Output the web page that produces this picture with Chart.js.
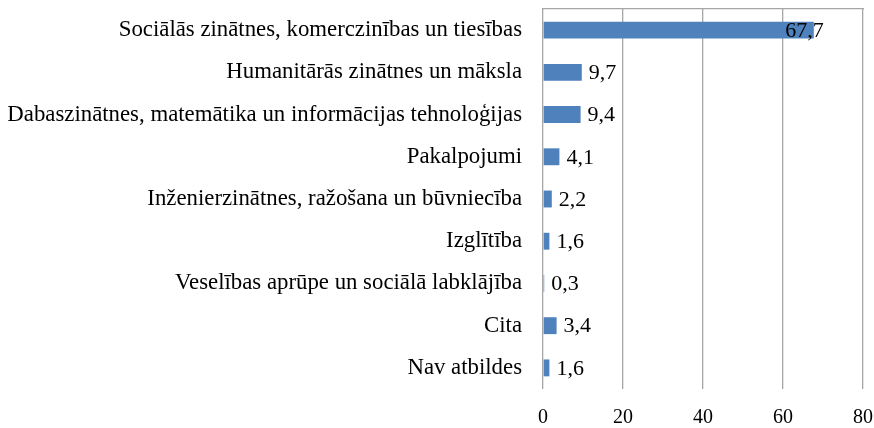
<!DOCTYPE html>
<html>
<head>
<meta charset="utf-8">
<script src="https://cdn.jsdelivr.net/npm/chart.js@4"></script>
<style>
  body { margin: 0; background: #fff; }
  #wrap { width: 874px; height: 428px; }
</style>
</head>
<body>
<div id="wrap"><canvas id="myChart"></canvas></div>
<script>
// Data
const categories = [
  "Sociālās zinātnes, komerczinības un tiesības",
  "Humanitārās zinātnes un māksla",
  "Dabaszinātnes, matemātika un informācijas tehnoloģijas",
  "Pakalpojumi",
  "Inženierzinātnes, ražošana un būvniecība",
  "Izglītība",
  "Veselības aprūpe un sociālā labklājība",
  "Cita",
  "Nav atbildes"
];
const values = [67.7, 9.7, 9.4, 4.1, 2.2, 1.6, 0.3, 3.4, 1.6];
const axisMin = 0;
const axisMax = 80;
const axisStep = 20;

const fontFamily = "'Liberation Serif', 'Times New Roman', serif";
const gridColor = "#a6a6a6";
const noColor = "rgba(0,0,0,0)";

// value labels next to bars
const valueLabels = {
  id: "valueLabels",
  afterDatasetsDraw(chart) {
    const ctx = chart.ctx;
    const meta = chart.getDatasetMeta(0);
    ctx.save();
    ctx.font = "22px " + fontFamily;
    ctx.fillStyle = "#000";
    ctx.textBaseline = "middle";
    meta.data.forEach((bar, i) => {
      const txt = values[i].toFixed(1).replace(".", ",");
      if (values[i] > axisMax / 2) {
        ctx.textAlign = "right";
        ctx.fillText(txt, bar.x + 10, bar.y + 1);
      } else {
        ctx.textAlign = "left";
        ctx.fillText(txt, bar.x + 7, bar.y + 1);
      }
    });
    ctx.restore();
  }
};

const ctx = document.getElementById("myChart");

new Chart(ctx, {
  type: "bar",
  data: {
    labels: categories,
    datasets: [
      {
        data: values,
        backgroundColor: "#4f81bd",
        borderWidth: 0,
        barPercentage: 0.4,
        categoryPercentage: 1,
      },
    ],
  },
  options: {
    indexAxis: "y",
    responsive: true,
    maintainAspectRatio: false,
    animation: false,
    layout: {
      padding: { top: 9, right: 11, left: 8, bottom: 0 },
    },
    plugins: {
      legend: { display: false },
      tooltip: { enabled: false },
    },
    scales: {
      x: {
        position: "bottom",
        min: axisMin,
        max: axisMax,
        ticks: {
          stepSize: axisStep,
          color: "#000",
          padding: 0,
          font: { family: fontFamily, size: 20, lineHeight: 1 },
        },
        grid: { color: gridColor, lineWidth: 1.3, drawTicks: true, tickLength: 19, tickColor: noColor },
        border: { display: false },
      },
      x2: {
        position: "top",
        min: axisMin,
        max: axisMax,
        ticks: { display: false },
        grid: { display: false, drawTicks: false },
        border: { display: true, color: gridColor, width: 1.3 },
      },
      y: {
        afterFit(scale) {
          scale.width = 535;
        },
        ticks: {
          color: "#000",
          padding: 0,
          font: { family: fontFamily, size: 22.8, lineHeight: 0.7 },
        },
        grid: { display: false, drawTicks: true, tickLength: 21, tickColor: noColor },
        border: { display: false },
      },
    },
  },
  plugins: [valueLabels],
});
</script>
</body>
</html>
